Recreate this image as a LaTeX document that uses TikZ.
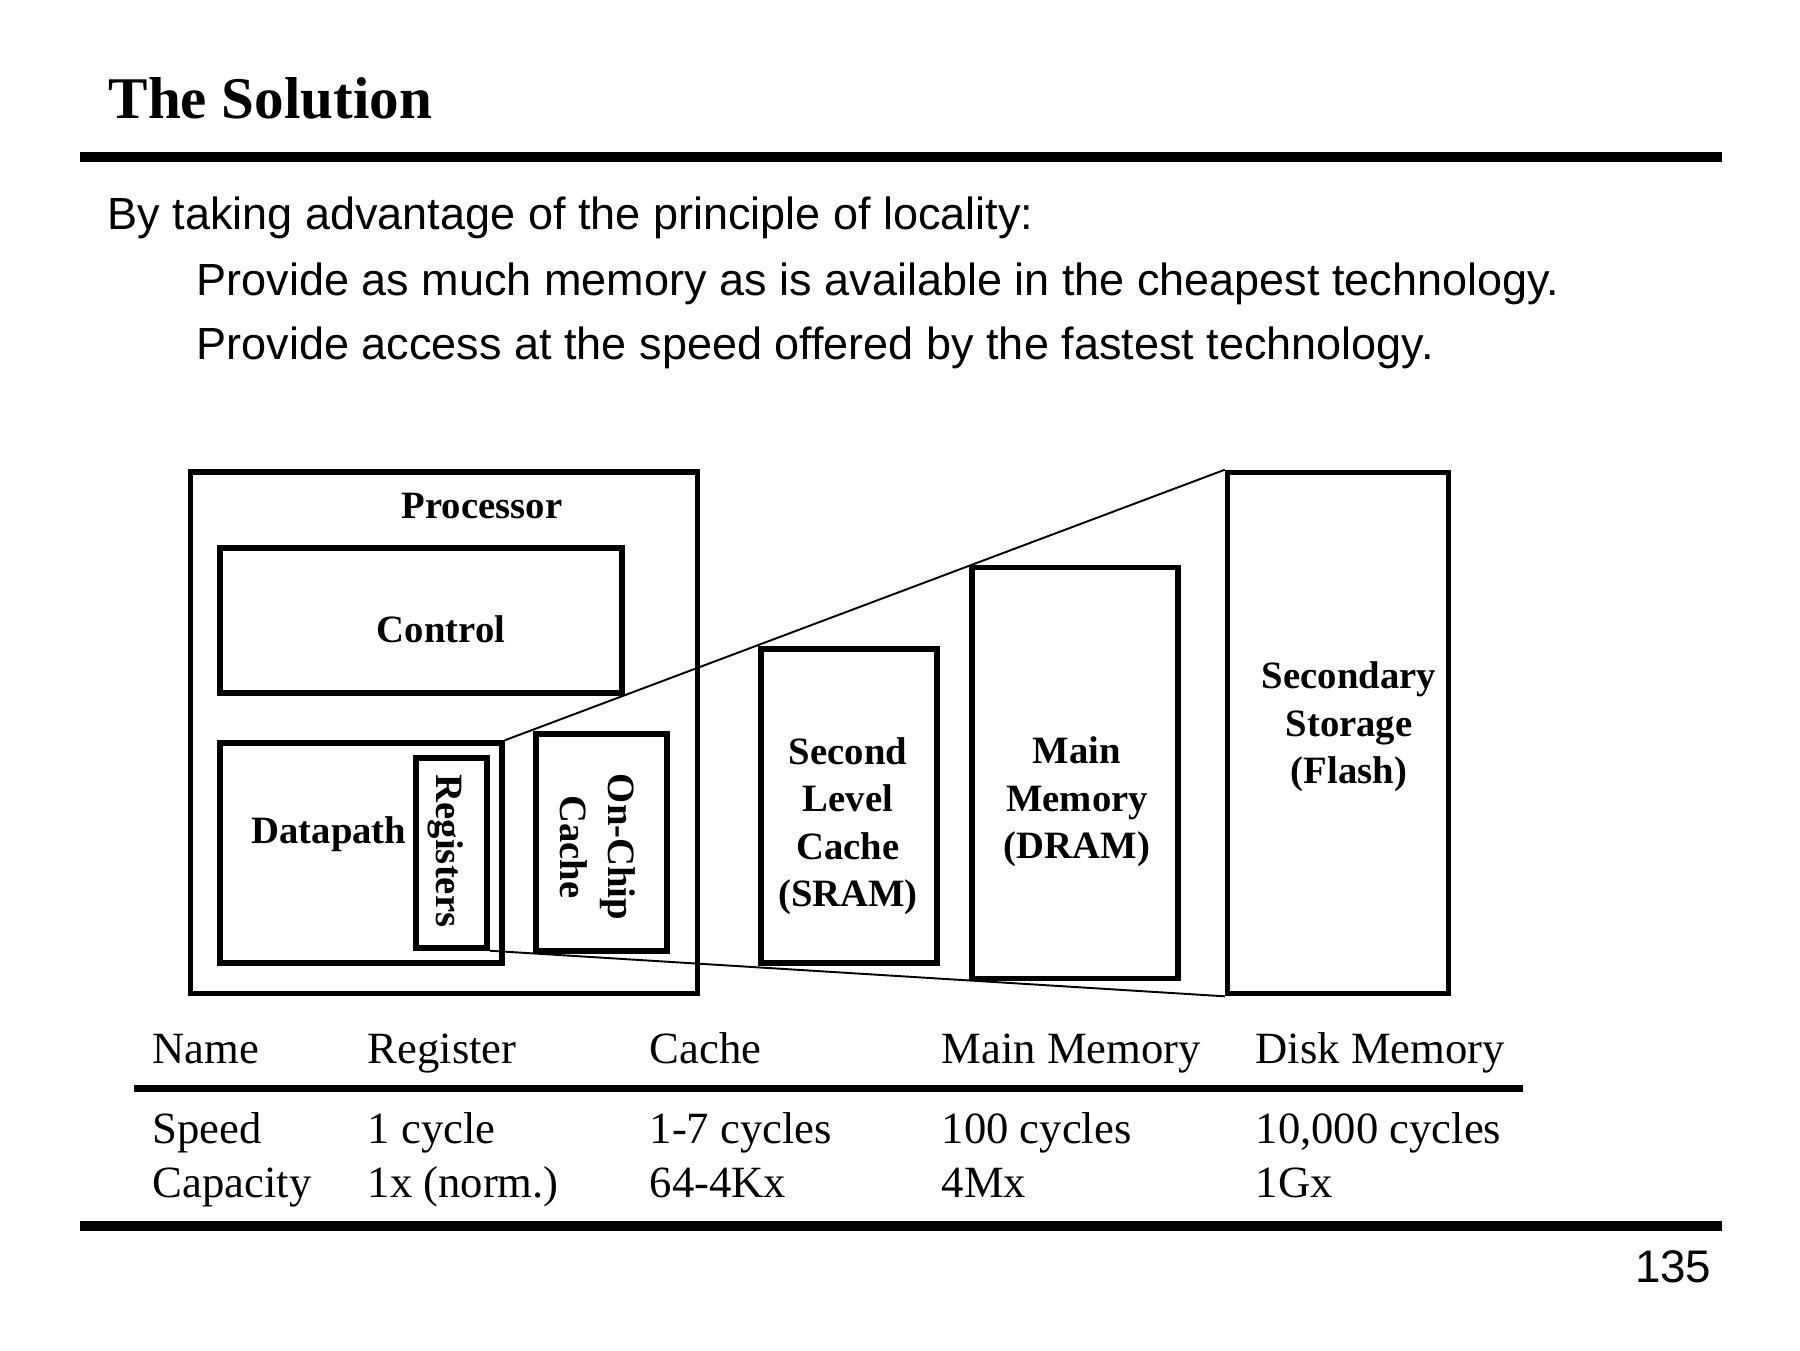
\documentclass[tikz,border=0pt]{standalone}
\usepackage{fontspec}
\usepackage{graphicx}
\setmainfont{Liberation Serif}
\setsansfont{Liberation Sans}
\usetikzlibrary{positioning}

\begin{document}
\begin{tikzpicture}[x=0.01cm, y=-0.01cm,
    box/.style={draw, line width=1.5pt, inner sep=0pt},
    lbl/.style={font=\fontsize{11}{13.5}\selectfont\bfseries, align=center, inner sep=0pt},
    cell/.style={font=\fontsize{12.7}{15}\selectfont, anchor=base west, inner sep=0pt},
    body/.style={font=\sffamily\fontsize{12.8}{15}\selectfont, anchor=base west, inner sep=0pt},
    zoomline/.style={line width=0.55pt}]
    \useasboundingbox (0,0) rectangle (1800,1350);

    % title
    \node[anchor=base west, inner sep=0pt, font=\fontsize{16.8}{20}\selectfont\bfseries] (title) at (108,118) {The Solution};
    \draw[line width=2.6pt] (80,157) -- (1722,157);

    % text
    \node[body] (intro) at (107,229) {By taking advantage of the principle of locality:};
    \node[body] (cheap) at (196,295) {Provide as much memory as is available in the cheapest technology.};
    \node[body] (fast) at (196,359) {Provide access at the speed offered by the fastest technology.};

    % processor
    \node[box, minimum width=5.06cm, minimum height=5.21cm] (proc) at (444,732.5) {};
    \node[lbl, anchor=base] (proc-txt) at (482,518) {Processor};
    \node[box, minimum width=4.02cm, minimum height=1.45cm] (ctrl) at (421,620.5) {};
    \node[lbl, anchor=base] (ctrl-txt) at (441,642) {Control};
    \node[box, minimum width=2.82cm, minimum height=2.20cm] (dpath) at (361,853) {};
    \node[lbl, anchor=base] (dpath-txt) at (329,843) {Datapath};
    \node[box, minimum width=0.71cm, minimum height=1.90cm] (regs) at (451.5,853) {};
    \node[lbl] (regs-txt) at (446,851) {\rotatebox{-90}{Registers}};
    \node[box, minimum width=1.31cm, minimum height=2.17cm] (l1) at (601.5,842.5) {};
    \node[lbl] (l1-txt) at (594,847) {\rotatebox{-90}{\begin{tabular}{@{}c@{}}On-Chip\\Cache\end{tabular}}};

    % memory levels
    \node[box, minimum width=1.76cm, minimum height=3.14cm] (l2) at (849,806) {};
    \node[lbl] (l2-txt) at (848,826) {Second\\Level\\Cache\\(SRAM)};
    \node[box, minimum width=2.06cm, minimum height=4.11cm] (dram) at (1075,773) {};
    \node[lbl] (dram-txt) at (1077,802) {Main\\Memory\\(DRAM)};
    \node[box, minimum width=2.21cm, minimum height=5.21cm] (flash) at (1338,733) {};
    \node[lbl] (flash-txt) at (1349,727) {Secondary\\Storage\\(Flash)};

    % zoom lines
    \draw[zoomline] (dpath.north east) -- (flash.north west);
    \draw[zoomline] (regs.south east) -- (flash.south west);

    % table
    \foreach \x/\t [count=\i] in {152/Name, 367/Register, 649/Cache, 941/Main Memory, 1255/Disk Memory}
        \node[cell] (head-\i) at (\x,1063) {\t};
    \draw[line width=2pt] (134,1088) -- (1523,1088);
    \foreach \x/\t [count=\i] in {152/Speed, 367/1 cycle, 649/1-7 cycles, 941/100 cycles, 1255/{10,000 cycles}}
        \node[cell] (speed-\i) at (\x,1143) {\t};
    \foreach \x/\t [count=\i] in {152/Capacity, 367/1x (norm.), 649/64-4Kx, 941/4Mx, 1255/1Gx}
        \node[cell] (cap-\i) at (\x,1197) {\t};
    \draw[line width=2.6pt] (80,1226) -- (1722,1226);

    \node[anchor=base east, inner sep=0pt, font=\sffamily\fontsize{13}{15}\selectfont] (pagenum) at (1712,1282) {135};
\end{tikzpicture}
\end{document}
